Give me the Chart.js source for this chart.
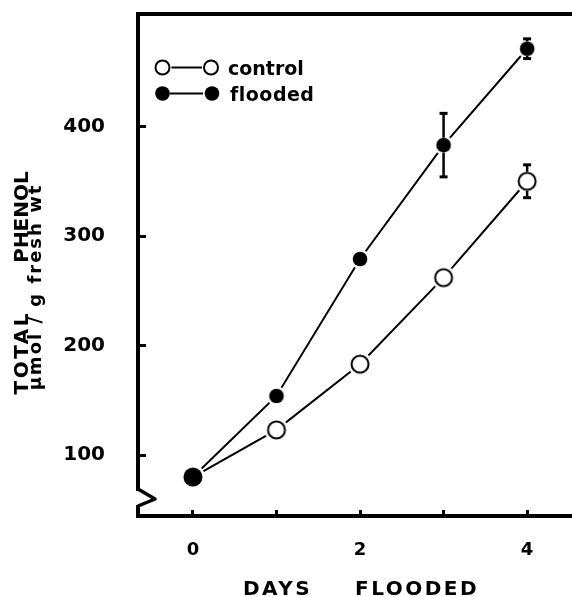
<!DOCTYPE html>
<html><head><meta charset="utf-8">
<script src="https://cdn.jsdelivr.net/npm/chart.js@4/dist/chart.umd.min.js"></script>
<style>html,body{margin:0;padding:0;background:#fff;overflow:hidden}#wrap{width:572px;height:597px}</style>
</head><body><div id="wrap"><canvas id="c" width="572" height="597"></canvas></div>
<script>
// ---- data ----
const days = [0, 1, 2, 3, 4];
const controlValues = [80, 123, 183, 262, 350];
const controlErrors = [0, 0, 0, 0, 15];
const floodedValues = [80, 154, 279, 383, 471];
const floodedErrors = [0, 0, 0, 29, 9];
const seriesNames = ['control', 'flooded'];
const xTickValues = [0, 1, 2, 3, 4];
const xTickLabels = ['0', '', '2', '', '4'];
const yTickValues = [100, 200, 300, 400];
const xTitleWords = ['DAYS', 'FLOODED'];
const yTitleWords = ['TOTAL', 'PHENOL'];
const yTitleUnits = 'µmol / g fresh wt';

const DEJA = "'DejaVu Sans', sans-serif";

function makeMarker(kind, r) {
  const halo = r + 2.5;
  const s = Math.ceil(halo * 2) + 2;
  const c = document.createElement('canvas');
  c.width = c.height = s;
  const g = c.getContext('2d');
  const m = s / 2;
  g.fillStyle = '#fff';
  g.beginPath(); g.arc(m, m, halo, 0, Math.PI * 2); g.fill();
  if (kind === 'open') {
    g.beginPath(); g.arc(m, m, r - 1, 0, Math.PI * 2);
    g.lineWidth = 2; g.strokeStyle = '#000'; g.stroke();
  } else {
    g.fillStyle = '#000';
    g.beginPath(); g.arc(m, m, r, 0, Math.PI * 2); g.fill();
  }
  c.outerR = r;
  return c;
}
const openMk = makeMarker('open', 9.5);
const fillMk = makeMarker('fill', 7.3);
const bigMk = makeMarker('fill', 9.5);

const controlStyles = controlValues.map((v, i) => i === 0 ? bigMk : openMk);
const floodedStyles = floodedValues.map((v, i) => i === 0 ? bigMk : fillMk);

const errorBars = {
  id: 'errorBars',
  afterDatasetsDraw(chart) {
    const ctx = chart.ctx, yS = chart.scales.y;
    chart.data.datasets.forEach((ds, di) => {
      const meta = chart.getDatasetMeta(di);
      ds.errors.forEach((e, j) => {
        if (!e) return;
        const p = meta.data[j];
        const v = ds.data[j].y;
        const r = ds.pointStyle[j].outerR;
        const yT = yS.getPixelForValue(v + e), yB = yS.getPixelForValue(v - e);
        ctx.save();
        ctx.strokeStyle = '#000'; ctx.fillStyle = '#000'; ctx.lineWidth = 2.5;
        ctx.beginPath();
        if (yT < p.y - r) { ctx.moveTo(p.x, yT); ctx.lineTo(p.x, p.y - r); }
        if (yB > p.y + r) { ctx.moveTo(p.x, p.y + r); ctx.lineTo(p.x, yB); }
        ctx.stroke();
        ctx.fillRect(p.x - 4, yT - 1.5, 8, 3);
        ctx.fillRect(p.x - 4, yB - 1.5, 8, 3);
        ctx.restore();
      });
    });
  }
};

function spacedText(ctx, text, x, y, ls, align) {
  ctx.letterSpacing = ls + 'px';
  const w = ctx.measureText(text).width - ls;
  let sx = x;
  if (align === 'center') sx = x - w / 2;
  else if (align === 'right') sx = x - w;
  ctx.textAlign = 'left';
  ctx.fillText(text, sx, y);
  ctx.letterSpacing = '0px';
}

const decor = {
  id: 'decor',
  afterDraw(chart) {
    const ctx = chart.ctx, a = chart.chartArea;
    ctx.save();
    // axis break on y axis
    const bx = a.left, bb = a.bottom;
    ctx.fillStyle = '#fff';
    ctx.fillRect(bx - 3, bb - 25, 6, 14);
    ctx.strokeStyle = '#000'; ctx.lineWidth = 3.5; ctx.lineJoin = 'round';
    ctx.beginPath();
    ctx.moveTo(bx, bb - 27);
    ctx.lineTo(bx + 17, bb - 17);
    ctx.lineTo(bx, bb - 10);
    ctx.stroke();

    // legend
    ctx.fillStyle = '#000'; ctx.strokeStyle = '#000'; ctx.lineWidth = 2;
    const ly = [67.5, 93.5];
    ctx.beginPath(); ctx.arc(162.5, ly[0], 7, 0, Math.PI * 2); ctx.stroke();
    ctx.beginPath(); ctx.arc(211, ly[0], 7, 0, Math.PI * 2); ctx.stroke();
    ctx.beginPath(); ctx.moveTo(171.5, ly[0]); ctx.lineTo(202, ly[0]); ctx.stroke();
    ctx.beginPath(); ctx.arc(162.5, ly[1], 7.3, 0, Math.PI * 2); ctx.fill();
    ctx.beginPath(); ctx.arc(212, ly[1], 7.3, 0, Math.PI * 2); ctx.fill();
    ctx.beginPath(); ctx.moveTo(170, ly[1]); ctx.lineTo(203, ly[1]); ctx.stroke();
    ctx.font = 'bold 19px ' + DEJA;
    ctx.textBaseline = 'alphabetic';
    spacedText(ctx, seriesNames[0], 228, 75, 0, 'left');
    spacedText(ctx, seriesNames[1], 230, 101, 0.5, 'left');

    // x title
    ctx.font = 'bold 20px ' + DEJA;
    spacedText(ctx, xTitleWords[0], 243, 595, 2.5, 'left');
    spacedText(ctx, xTitleWords[1], 355, 595, 2.5, 'left');

    // y title
    ctx.save();
    ctx.translate(28, 0);
    ctx.rotate(-Math.PI / 2);
    ctx.font = 'bold 20px ' + DEJA;
    spacedText(ctx, yTitleWords[0], -354, 0, 2.5, 'center');
    spacedText(ctx, yTitleWords[1], -217, 0, 0, 'center');
    ctx.restore();
    ctx.save();
    ctx.translate(41, 0);
    ctx.rotate(-Math.PI / 2);
    ctx.font = 'bold 18px ' + DEJA;
    spacedText(ctx, yTitleUnits, -288, 0, 2, 'center');
    ctx.restore();
    ctx.restore();
  }
};

const xMin = -0.657, xMax = 4.537, yMin = 44.4, yMax = 502.7;
const zeroPad = s => { s.paddingTop = 0; s.paddingBottom = 0; s.paddingLeft = 0; s.paddingRight = 0; };

new Chart(document.getElementById('c'), {
  type: 'line',
  data: {
    datasets: [
      {
        label: seriesNames[0],
        data: days.map((d, i) => ({ x: d, y: controlValues[i] })),
        errors: controlErrors,
        borderColor: '#000', borderWidth: 2, tension: 0, fill: false,
        pointStyle: controlStyles, pointRadius: 9, xAxisID: 'x', yAxisID: 'y'
      },
      {
        label: seriesNames[1],
        data: days.map((d, i) => ({ x: d, y: floodedValues[i] })),
        errors: floodedErrors,
        borderColor: '#000', borderWidth: 2, tension: 0, fill: false,
        pointStyle: floodedStyles, pointRadius: 9, xAxisID: 'x', yAxisID: 'y'
      }
    ]
  },
  options: {
    responsive: false,
    animation: false,
    events: [],
    layout: { autoPadding: false, padding: { top: 14, left: 0, right: 0, bottom: 0 } },
    plugins: { legend: { display: false }, tooltip: { enabled: false }, title: { display: false } },
    scales: {
      x: {
        type: 'linear', position: 'bottom', min: xMin, max: xMax,
        afterBuildTicks: s => { s.ticks = xTickValues.map(v => ({ value: v })); },
        afterFit: s => { s.height = 81; zeroPad(s); },
        border: { display: true, width: 4, color: '#000' },
        grid: { display: true, drawOnChartArea: false, drawTicks: true, tickLength: -6, tickWidth: 3, tickColor: '#000' },
        ticks: {
          autoSkip: false, maxRotation: 0, padding: 30, color: '#000',
          font: { family: DEJA, size: 18, weight: 'bold' },
          callback: (v, i) => xTickLabels[i]
        }
      },
      x2: {
        type: 'linear', position: 'top', min: xMin, max: xMax,
        afterFit: s => { s.height = 0; zeroPad(s); },
        border: { display: true, width: 4, color: '#000' },
        grid: { display: true, drawOnChartArea: false, drawTicks: false },
        ticks: { display: false }
      },
      y: {
        type: 'linear', position: 'left', min: yMin, max: yMax,
        afterBuildTicks: s => { s.ticks = yTickValues.map(v => ({ value: v })); },
        afterFit: s => { s.width = 138; zeroPad(s); },
        border: { display: true, width: 4, color: '#000' },
        grid: { display: true, drawOnChartArea: false, drawTicks: true, tickLength: -8, tickWidth: 3, tickColor: '#000' },
        ticks: {
          padding: 41, color: '#000',
          font: { family: DEJA, size: 20, weight: 'bold' }
        }
      }
    }
  },
  plugins: [errorBars, decor]
});
</script>
</body></html>
